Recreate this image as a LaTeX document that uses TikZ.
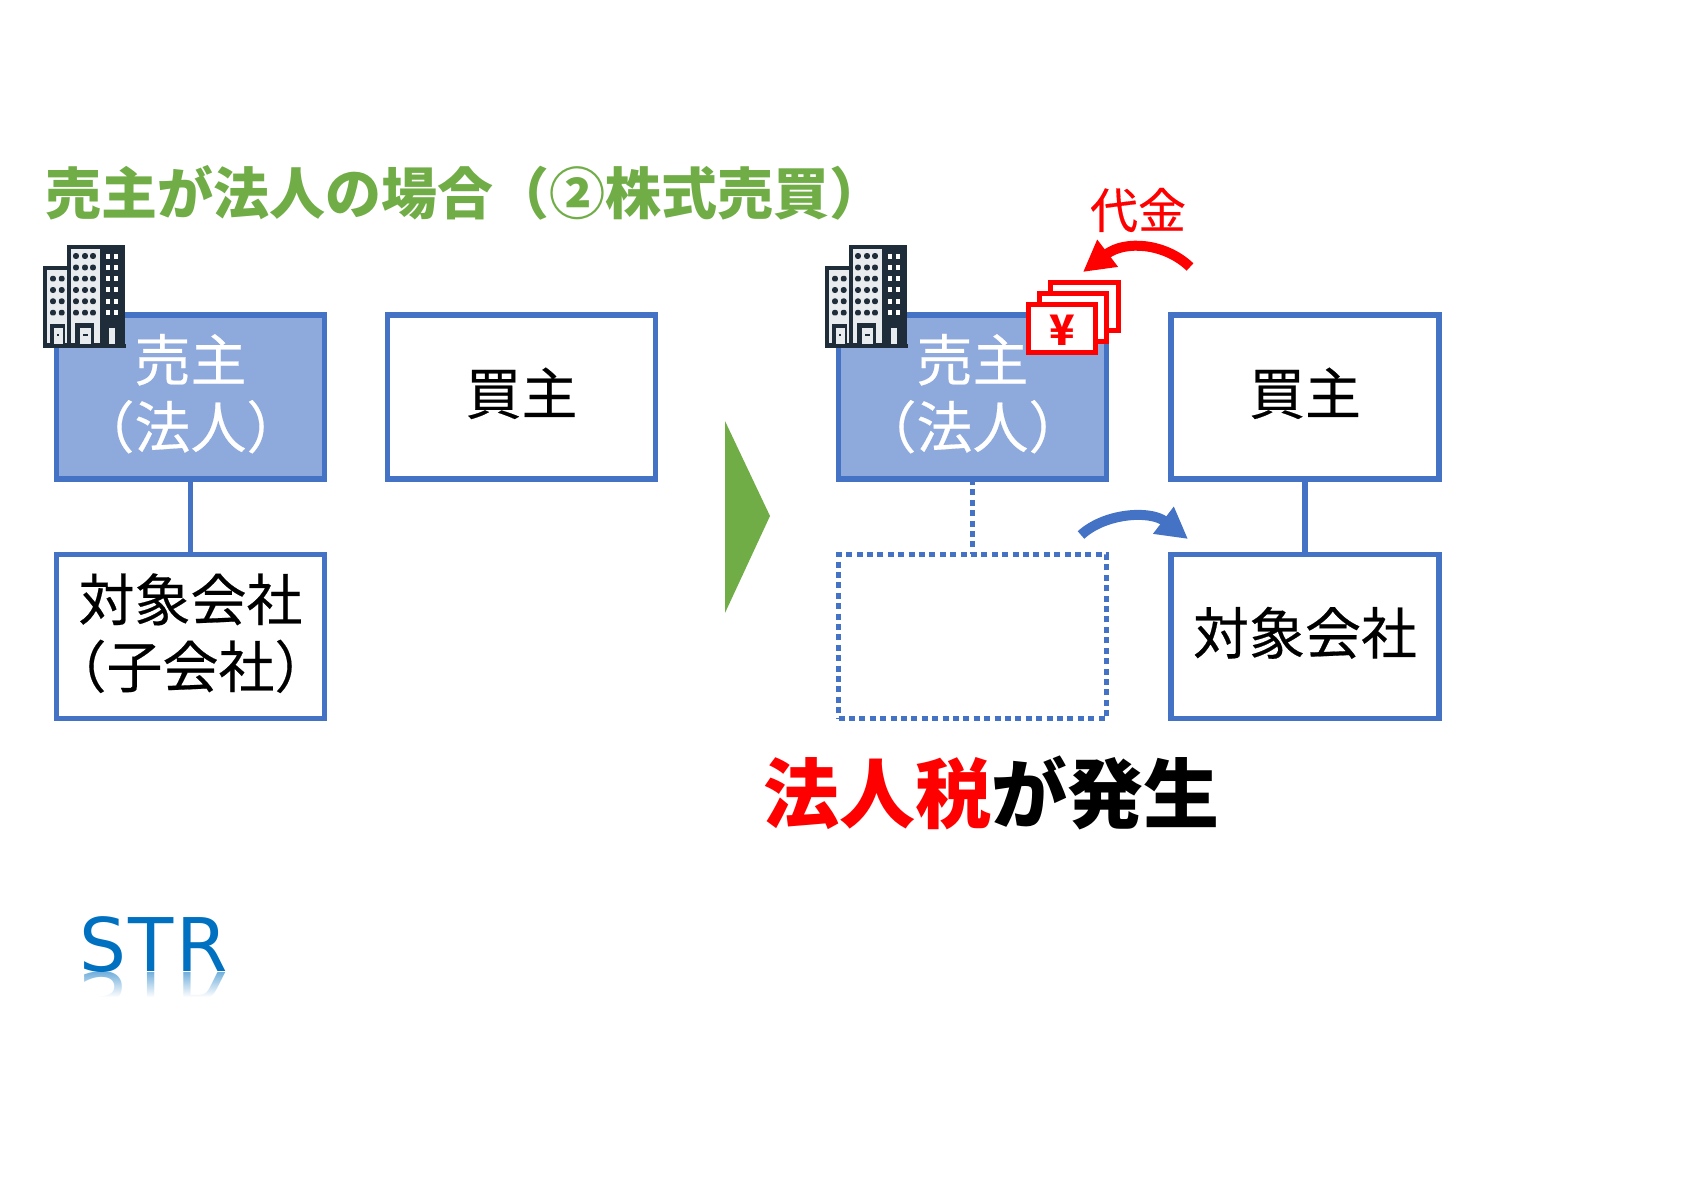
\documentclass[tikz,border=0pt]{standalone}
\usepackage{xcolor}
\usepackage{fontspec}
\setmainfont{Noto Sans CJK JP}
\newfontfamily\rdfont[FakeBold=0.35]{Noto Sans CJK JP}
\newfontfamily\strfont[LetterSpace=3.5]{DejaVu Sans}
\usetikzlibrary{arrows.meta,fadings}
\definecolor{boxblue}{HTML}{4472C4}
\definecolor{fillblue}{HTML}{8EA9DB}
\definecolor{titlegreen}{HTML}{70AD47}
\definecolor{strblue}{HTML}{0070C0}
\definecolor{towerdark}{HTML}{1F2D3A}
\definecolor{towerlight}{HTML}{E9ECEE}
\tikzfading[name=fadereflect,top color=transparent!55,bottom color=transparent!0]
\tikzset{font={\fontsize{28bp}{33.5bp}\selectfont\rdfont}}
\tikzset{orgbox/.style={draw=boxblue,line width=2.8bp,rectangle,minimum width=134bp,minimum height=82bp,inner sep=0pt,outer sep=0pt,align=center,fill=white,text depth=6bp}}
\tikzset{link/.style={draw=boxblue,line width=2.8bp}}
\tikzset{bendarrow/.style={line width=5bp,draw=#1,-{Triangle[length=15.5bp,width=16bp,fill=#1]}}}
\tikzset{bill/.style={draw=red,line width=2.5bp,fill=white}}
\tikzset{building/.pic={
    \fill[towerdark] (0,21) rectangle (24,103);
    \fill[towerdark] (24,0) rectangle (82,103);
    \fill[towerlight] (4,25) rectangle (24,98);
    \fill[towerlight] (28,4) rectangle (57,98);
    \foreach \wx in {10,18.7}{
        \foreach \wy in {33.7,45,56.3,67.7}{
            \fill[towerdark,rounded corners=1bp] (\wx-2.8,\wy-2.8) rectangle (\wx+2.8,\wy+2.8);
        }
    }
    \foreach \wx in {33,42,50}{
        \foreach \wy in {11,22.5,33.7,45,56.3,67.7}{
            \fill[towerdark,rounded corners=1bp] (\wx-2.8,\wy-2.8) rectangle (\wx+2.8,\wy+2.8);
        }
    }
    \foreach \wx in {65,73}{
        \foreach \wy in {12,23,34,45,56.5,68}{
            \fill[white] (\wx-1.8,\wy-2.5) rectangle (\wx+1.8,\wy+2.5);
        }
    }
    \fill[towerdark] (7,79) rectangle (22,100);
    \fill[towerlight] (11,83) rectangle (20,99);
    \fill[towerdark] (32,78) rectangle (51,100);
    \fill[towerlight] (37,83) rectangle (48,99);
    \fill[towerdark] (13.5,89.5) rectangle (16,91.5);
    \fill[towerdark] (40,89.5) rectangle (45,91.5);
    \fill[towerlight] (66,83) rectangle (72,99);
    \fill[towerdark] (0,99) rectangle (83,103);
}}
\begin{document}
\begin{tikzpicture}[x=0.5bp,y=-0.5bp]
        \useasboundingbox (0,0) rectangle (1684,1191);
        \node[anchor=west,text=titlegreen,font={\fontsize{28bp}{30bp}\selectfont\normalfont\bfseries}] (title) at (38,193) {売主が法人の場合（②株式売買）};
        \node[orgbox,fill=fillblue,text=white] (sellerA) at (190.5,397) {売主\\（法人）};
        \node[orgbox] (buyerA) at (521.5,397) {買主};
        \node[orgbox,inner xsep=-8bp] (targetA) at (190.5,636.5) {対象会社\\（子会社）};
        \path[link] (sellerA.south) -- (targetA.north);
        \fill[titlegreen] (725,421) -- (770,516) -- (725,613) -- cycle;
        \node[orgbox,fill=fillblue,text=white] (sellerB) at (972.5,397) {売主\\（法人）};
        \node[orgbox] (buyerB) at (1305,397) {買主};
        \node[orgbox] (targetB) at (1305,636.5) {対象会社};
        \node[orgbox,dash pattern=on 3bp off 2.2bp] (emptyB) at (972.5,636.5) {};
        \path[link] (buyerB.south) -- (targetB.north);
        \path[link,dash pattern=on 3bp off 2.2bp] (sellerB.south) -- (emptyB.north);
        \pic at (43,245) {building};
        \pic at (825,245) {building};
        \foreach \i\j\k in {back/1050.8/282.5, mid/1039.5/293.5, front/1028.5/304.5}{
            \node[bill,rectangle,minimum width=33.7bp,minimum height=23.9bp,inner sep=0pt,outer sep=0pt,anchor=north west] (bill\i) at (\j,\k) {};
        }
        \node[text=red,font={\fontsize{21bp}{21bp}\selectfont\normalfont\bfseries}] (yen) at (1062.5,330) {¥};
        \node[text=red,font={\fontsize{24bp}{24bp}\selectfont\rdfont}] (price) at (1138,210) {代金};
        \coordinate (priceS) at (1190,267);
        \coordinate (priceE) at (1083,272);
        \draw[bendarrow=red] (priceS) .. controls (1165,243) and (1125,240) .. (priceE);
        \coordinate (shareS) at (1081,535);
        \coordinate (shareE) at (1188,539);
        \draw[bendarrow=boxblue] (shareS) .. controls (1105,513) and (1150,510) .. (shareE);
        \node[font={\fontsize{38bp}{38bp}\selectfont\normalfont\bfseries}] (tax) at (991,793) {\textcolor{red}{法人税}が発生};
        \begin{scope}
            \clip (70,972) rectangle (240,996);
            \node[text=strblue,anchor=base west,font={\fontsize{37bp}{37bp}\selectfont\strfont},transform shape,yscale=-1] (strflip) at (72,972) {STR};
        \end{scope}
        \fill[white,path fading=fadereflect] (70,972) rectangle (240,997);
        \node[text=strblue,anchor=base west,font={\fontsize{37bp}{37bp}\selectfont\strfont}] (str) at (72,971) {STR};
    \end{tikzpicture}
\end{document}
